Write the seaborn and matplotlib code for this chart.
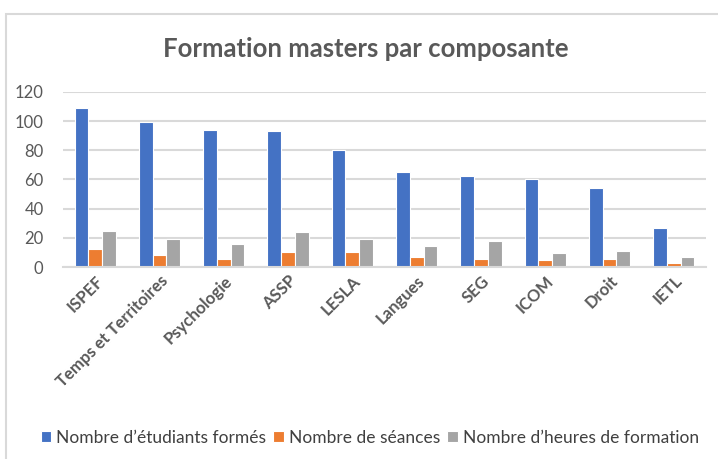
"""Formation masters par composante : barres groupées façon Excel."""

import pandas as pd
import matplotlib
matplotlib.use("Agg")
import matplotlib.pyplot as plt
from matplotlib.patches import Rectangle
import seaborn as sns

composantes = ["ISPEF", "Temps et Territoires", "Psychologie", "ASSP", "LESLA",
               "Langues", "SEG", "ICOM", "Droit", "IETL"]
etudiants = [109, 99.5, 94, 93, 80, 65, 62.5, 60, 54.5, 26.5]
seances = [12, 8.5, 5.5, 10, 10, 7, 5.5, 5, 5.5, 2.7]
heures = [24.5, 19, 15.5, 24, 19.5, 14.5, 17.5, 9.5, 11, 7]
series = ["Nombre d’étudiants formés", "Nombre de séances",
          "Nombre d’heures de formation"]
couleurs = ["#4472C4", "#ED7D31", "#A5A5A5"]

df = pd.DataFrame({"composante": composantes * 3,
                   "serie": [s for s in series for _ in composantes],
                   "valeur": etudiants + seances + heures})

sns.set_theme(style="white")
plt.rcParams["font.family"] = ["Lato", "DejaVu Sans"]

fig = plt.figure(figsize=(7.18, 4.59), dpi=100)
ax = fig.add_axes([0.0877, 0.4183, 0.8956, 0.3813])

sns.barplot(data=df, x="composante", y="valeur", hue="serie",
            palette=couleurs, saturation=1, width=0.64, edgecolor="white",
            linewidth=0.8, ax=ax, legend=True)

ax.set_ylim(0, 120)
ax.set_xlim(-0.5, len(composantes) - 0.5)
ax.set_yticks(range(0, 121, 20))
ax.yaxis.grid(True, color="#d9d9d9", linewidth=1.5)
ax.set_axisbelow(True)
for s in ["left", "right", "top"]:
    ax.spines[s].set_visible(False)
ax.spines["bottom"].set_color("#d9d9d9")
ax.spines["bottom"].set_linewidth(1.5)
ax.set_xlabel("")
ax.set_ylabel("")
ax.tick_params(axis="y", length=0, pad=14, labelsize=12, labelcolor="#595959")
ax.tick_params(axis="x", length=0, pad=4, labelsize=12, labelcolor="#595959")
for lab in ax.get_xticklabels():
    lab.set_rotation(45)
    lab.set_ha("right")
    lab.set_rotation_mode("anchor")
    lab.set_fontweight("bold")

ax.legend_.remove()
handles, labels = ax.get_legend_handles_labels()
fig.legend(handles, labels, loc="center", bbox_to_anchor=(0.515, 0.046), ncol=3,
           frameon=False, fontsize=12.5, handlelength=0.6, handleheight=0.6,
           handletextpad=0.3, columnspacing=0.4, labelcolor="#404040")

fig.text(0.51, 0.893, "Formation masters par composante", ha="center", va="center",
         fontsize=18.5, fontweight="bold", color="#595959")

# cadre du graphique Excel
fig.patches.append(Rectangle((0.0084, -0.1), 1.2, 1.0695, transform=fig.transFigure,
                             fill=False, edgecolor="#d9d9d9", linewidth=1.5))

fig.savefig("out.png", dpi=100)
